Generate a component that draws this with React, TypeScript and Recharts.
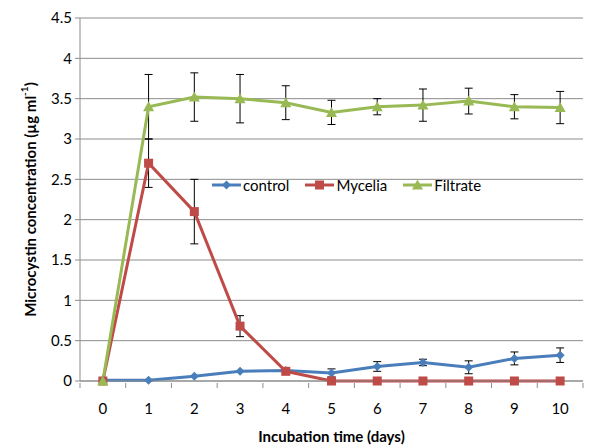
import React from 'react';
import { LineChart, Line, XAxis, YAxis, CartesianGrid, ErrorBar, Legend } from 'recharts';

// incubation days
const days = [0, 1, 2, 3, 4, 5, 6, 7, 8, 9, 10];

// microcystin concentration (µg/ml) and error values
const control = [0.01, 0.01, 0.06, 0.12, 0.13, 0.1, 0.18, 0.23, 0.17, 0.28, 0.32];
const controlErr = [undefined, undefined, undefined, undefined, undefined, 0.05, 0.06, 0.04, 0.08, 0.08, 0.09];
const mycelia = [0, 2.7, 2.1, 0.68, 0.12, 0, 0, 0, 0, 0, 0];
const myceliaErr = [undefined, 0.3, 0.4, 0.13, undefined, undefined, undefined, undefined, undefined, undefined, undefined];
const filtrate = [0, 3.4, 3.52, 3.5, 3.45, 3.33, 3.4, 3.42, 3.47, 3.4, 3.39];
const filtrateErr = [undefined, 0.4, 0.3, 0.3, 0.21, 0.15, 0.1, 0.2, 0.16, 0.15, 0.2];

const yTicks = [0, 0.5, 1, 1.5, 2, 2.5, 3, 3.5, 4, 4.5];

const BLUE = '#4a7ebb';
const RED = '#be4b48';
const GREEN = '#98b954';
const GRID = '#8c8c8c';
const FONT = 'Lato, "Open Sans", sans-serif';

const data = days.map((d, i) => ({
  day: d,
  control: control[i],
  controlErr: controlErr[i],
  mycelia: mycelia[i],
  myceliaErr: myceliaErr[i],
  filtrate: filtrate[i],
  filtrateErr: filtrateErr[i],
}));

// x ticks: day centres get labels, band edges get tick marks
const xTicks = [...days.map(d => d - 0.5), 10.5, ...days];

const Diamond = ({ cx, cy, fill }: any) => (
  <path d={`M${cx},${cy - 4.5}L${cx + 4.5},${cy}L${cx},${cy + 4.5}L${cx - 4.5},${cy}Z`} fill={fill} />
);
const Square = ({ cx, cy, fill }: any) => (
  <rect x={cx - 4.5} y={cy - 4.5} width={9} height={9} fill={fill} />
);
const Triangle = ({ cx, cy, fill }: any) => (
  <path d={`M${cx},${cy - 5.5}L${cx + 5.5},${cy + 4.5}L${cx - 5.5},${cy + 4.5}Z`} fill={fill} />
);

const XTick = (props: any) => {
  const { x, y, payload } = props;
  const v = payload.value;
  if (Number.isInteger(v)) {
    return (
      <text x={x} y={y + 31} textAnchor="middle" fontSize={15} fontFamily={FONT} fill="#000">
        {v}
      </text>
    );
  }
  return <line x1={x} y1={y} x2={x} y2={y + 5} stroke={GRID} />;
};

const YTitle = (props: any) => {
  const { viewBox } = props;
  const cx = viewBox.x + 30;
  const cy = viewBox.y + viewBox.height / 2;
  return (
    <text
      x={cx}
      y={cy}
      transform={`rotate(-90, ${cx}, ${cy})`}
      textAnchor="middle"
      dominantBaseline="central"
      fontSize={15}
      fontWeight="bold"
      fontFamily={FONT}
      fill="#000"
    >
      Microcystin concentration (µg ml
      <tspan fontSize={10} dy={-6}>-1</tspan>
      <tspan dy={6}>)</tspan>
    </text>
  );
};

const XTitle = (props: any) => {
  const { viewBox } = props;
  return (
    <text
      x={viewBox.x + viewBox.width / 2}
      y={viewBox.y + 61}
      textAnchor="middle"
      fontSize={15}
      fontWeight="bold"
      fontFamily={FONT}
      fill="#000"
    >
      Incubation time (days)
    </text>
  );
};

const legendItems = [
  { name: 'control', color: BLUE, shape: 'diamond' },
  { name: 'Mycelia', color: RED, shape: 'square' },
  { name: 'Filtrate', color: GREEN, shape: 'triangle' },
];

const LegendContent = () => (
  <div style={{ display: 'flex', alignItems: 'center', fontFamily: FONT, fontSize: 15, color: '#000' }}>
    {legendItems.map(item => (
      <div key={item.name} style={{ display: 'flex', alignItems: 'center', marginRight: 16 }}>
        <svg width={29} height={14}>
          <line x1={0} y1={7} x2={29} y2={7} stroke={item.color} strokeWidth={3} />
          {item.shape === 'diamond' && <Diamond cx={14.5} cy={7} fill={item.color} />}
          {item.shape === 'square' && <Square cx={14.5} cy={7} fill={item.color} />}
          {item.shape === 'triangle' && <Triangle cx={14.5} cy={7} fill={item.color} />}
        </svg>
        <span style={{ marginLeft: 2 }}>{item.name}</span>
      </div>
    ))}
  </div>
);

export default function App() {
  return (
    <div style={{ position: 'absolute', left: 0, top: 0, background: '#fff' }}>
      <LineChart width={589} height={448} data={data} margin={{ top: 18, right: 6, left: 0, bottom: 27 }}>
        <CartesianGrid vertical={false} stroke={GRID} />
        <XAxis
          dataKey="day"
          type="number"
          domain={[-0.5, 10.5]}
          ticks={xTicks}
          interval={0}
          tick={<XTick />}
          tickLine={false}
          tickSize={0}
          axisLine={{ stroke: GRID }}
          height={40}
          label={{ content: <XTitle /> }}
        />
        <YAxis
          domain={[0, 4.5]}
          ticks={yTicks}
          width={80}
          tickSize={5}
          tickMargin={3}
          tickLine={{ stroke: GRID }}
          axisLine={{ stroke: GRID }}
          tick={{ fontSize: 15, fontFamily: FONT, fill: '#000' }}
          tickFormatter={(v: number) => String(v)}
          label={{ content: <YTitle /> }}
        />
        <Legend
          verticalAlign="middle"
          align="center"
          content={<LegendContent />}
          wrapperStyle={{ position: 'absolute', left: 212, top: 176, width: 'auto' }}
        />
        <Line
          dataKey="control"
          stroke={BLUE}
          strokeWidth={3}
          isAnimationActive={false}
          dot={(p: any) => <Diamond key={`c${p.index}`} cx={p.cx} cy={p.cy} fill={BLUE} />}
          activeDot={false}
        >
          <ErrorBar dataKey="controlErr" direction="y" width={4} stroke="#000" strokeWidth={1} />
        </Line>
        <Line
          dataKey="mycelia"
          stroke={RED}
          strokeWidth={3}
          isAnimationActive={false}
          dot={(p: any) => <Square key={`m${p.index}`} cx={p.cx} cy={p.cy} fill={RED} />}
          activeDot={false}
        >
          <ErrorBar dataKey="myceliaErr" direction="y" width={4} stroke="#000" strokeWidth={1} />
        </Line>
        <Line
          dataKey="filtrate"
          stroke={GREEN}
          strokeWidth={3}
          isAnimationActive={false}
          dot={(p: any) => <Triangle key={`f${p.index}`} cx={p.cx} cy={p.cy} fill={GREEN} />}
          activeDot={false}
        >
          <ErrorBar dataKey="filtrateErr" direction="y" width={4} stroke="#000" strokeWidth={1} />
        </Line>
      </LineChart>
    </div>
  );
}
